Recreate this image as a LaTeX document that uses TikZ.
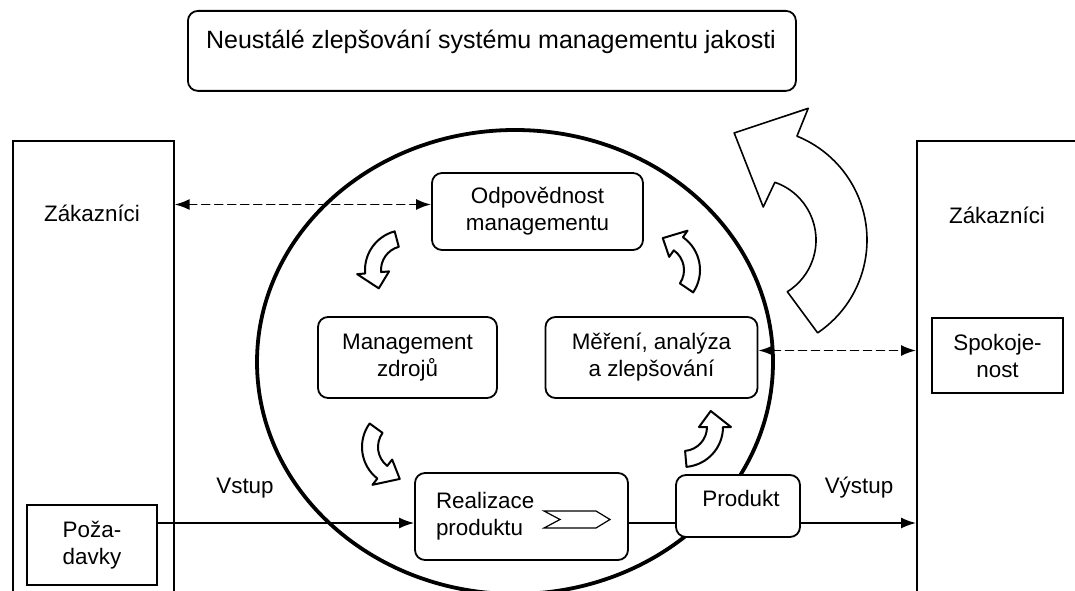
\documentclass[tikz,border=0pt]{standalone}
\usepackage{fontspec}
\setmainfont{Liberation Sans}
\usetikzlibrary{arrows.meta}

\tikzset{
  procbox/.style={draw, rounded corners=10pt, fill=white, line width=1.8pt, align=center, inner sep=0pt},
  sqbox/.style={draw, fill=white, line width=1.6pt, align=center, inner sep=0pt},
  bendarrow/.style={draw, fill=white, line width=2pt, line join=round},
  dasharrow/.style={dash pattern=on 8pt off 5pt, line width=1.8pt, {Latex[length=15pt,width=11pt]}-{Latex[length=15pt,width=11pt]}},
  flowarrow/.style={line width=1.5pt, -{Latex[length=15pt,width=11pt]}},
}

\begin{document}
\begin{tikzpicture}[x=1pt, y=1pt, line cap=round, font=\fontsize{22.4}{27}\selectfont]
\useasboundingbox (0,0) rectangle (1075,590);
\clip (0,0) rectangle (1075,590);

\node[procbox, minimum width=608, minimum height=80, anchor=north west] (title) at (187,580) {};
\node[font=\fontsize{25}{30}\selectfont] (titletxt) at (491,548) {Neustálé zlepšování systému managementu jakosti};

\node[sqbox, minimum width=161, minimum height=480, anchor=north west] (lcust) at (12,450) {};
\node[sqbox, minimum width=164, minimum height=480, anchor=north west] (rcust) at (916,450) {};
\node (lcusttxt) at (92,377) {Zákazníci};
\node (rcusttxt) at (997,375) {Zákazníci};
\node[sqbox, minimum width=130, minimum height=80] (pozad) at (92,45) {Poža-\\davky};
\node[sqbox, minimum width=131, minimum height=75] (spok) at (997.5,234.5) {Spokoje-\\nost};

\draw[line width=3.8pt] (515,228) ellipse [x radius=258, y radius=232];

\node[procbox, minimum width=211, minimum height=77] (odp) at (537.5,378.5) {Odpovědnost\\managementu};
\node[procbox, minimum width=179, minimum height=81] (mgmt) at (407.5,232.5) {Management\\zdrojů};
\node[procbox, minimum width=212, minimum height=81] (mer) at (651.5,232.5) {Měření, analýza\\a zlepšování};
\node[procbox, minimum width=213, minimum height=87, text width=171, align=left] (real) at (521.5,73.5) {Realizace\\produktu};
\node[procbox, minimum width=124, minimum height=62] (prod) at (738,84) {};
\node (prodtxt) at (741,92) {Produkt};

\draw[line width=1.2pt, line join=miter] (544,79) -- (596,79) -- (610,70.5) -- (596,62) -- (544,62) -- (560,70.5) -- cycle;

\coordinate (flow) at (0,67);
\draw[flowarrow] (pozad.east |- flow) -- (real.west |- flow);
\draw[line width=1.5pt] (real.east |- flow) -- (prod.west |- flow);
\draw[flowarrow] (prod.east |- flow) -- (rcust.west |- flow);
\node (vstup) at (245,102) {Vstup};
\node (vystup) at (859,102) {Výstup};

\path ([yshift=7]odp.west) coordinate (odpin) ([yshift=7]mer.east) coordinate (merout);
\draw[dasharrow] (odpin -| lcust.east) -- (odpin);
\draw[dasharrow] (merout) -- (merout -| rcust.west);

\foreach \cx/\cy/\a/\b/\t in {405/320/105/185/215, 660/320/-34/55/85, 402/143/144/232/266, 683/163/-85/0/30}
  \draw[bendarrow, shift={(\cx,\cy)}] (\a:40) arc[start angle=\a, end angle=\b, radius=40]
    -- (\b:48) -- (\t:32) -- (\b:16) -- (\b:24) arc[start angle=\b, end angle=\a, radius=24] -- cycle;

\draw[bendarrow, line width=1.6pt, shift={(755,350)}] (-56:112) arc[start angle=-56, end angle=68, radius=112]
  -- (68:142) -- (101:109) -- (76:34) -- (71:61) arc[start angle=71, end angle=-58, radius=61] -- cycle;
\end{tikzpicture}
\end{document}
